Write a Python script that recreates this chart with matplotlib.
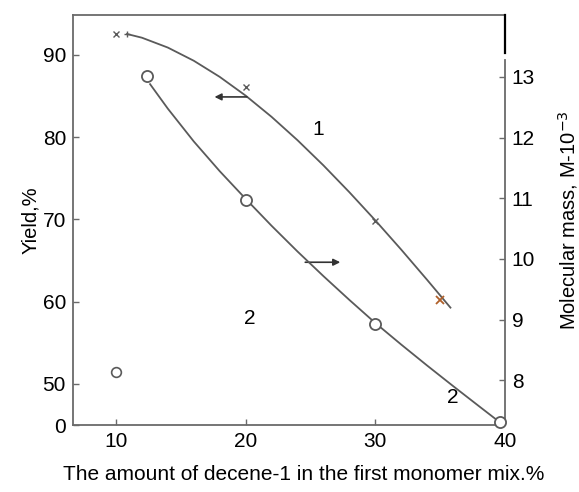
import matplotlib
matplotlib.use("Agg")
import matplotlib.pyplot as plt

plt.rcParams['font.family'] = ['Liberation Sans', 'DejaVu Sans']

# ---- data ----
# curve 1: yield (left axis), x markers
yield_x = [10, 20, 30, 35]
yield_y = [92.5, 86.1, 69.8, 60.2]
# smooth drawn line 1
fit1_x = [10.85, 12, 14, 16, 18, 20, 22, 24, 26, 28, 30, 32, 34, 35.8]
fit1_y = [92.55, 92.1, 90.9, 89.3, 87.34, 85.06, 82.48, 79.64, 76.58,
          73.32, 69.9, 66.34, 62.66, 59.28]

# curve 2: molecular mass (right axis), open circles
mm_x = [12.4, 20, 30, 39.6]
mm_y = [13.02, 10.97, 8.92, 7.31]
fit2_x = [12.63, 14, 16, 18, 20, 22, 24, 26, 28, 30, 32, 34, 36, 38, 39.58]
fit2_y = [12.88, 12.476, 11.936, 11.446, 10.99, 10.546, 10.122, 9.716,
          9.324, 8.944, 8.588, 8.242, 7.904, 7.572, 7.311]

# stray open circle near x=10
stray_x = [10]
stray_y = [51.5]

x_ticks = [10, 20, 30, 40]
left_ticks = [45.0, 50, 60, 70, 80, 90]
left_labels = ['0', '50', '60', '70', '80', '90']
right_ticks = [8, 9, 10, 11, 12, 13]

line_col = '#5a5a5a'
spine_col = '#6a6a6a'

fig = plt.figure(figsize=(5.79, 4.92), dpi=100)
ax = fig.add_axes([0.126, 0.136, 0.746, 0.8335])
ax2 = ax.twinx()

ax.set_xlim(6.68, 40)
ax.set_ylim(45.0, 94.86)
ax2.set_ylim(7.26, 14.02)

# curve 1
ax.plot(fit1_x, fit1_y, color=line_col, lw=1.3)
ax.plot(yield_x[:-1], yield_y[:-1], linestyle='none', marker='x', ms=5,
        mec=line_col, mew=1.0)
ax.plot(yield_x[-1:], yield_y[-1:], linestyle='none', marker='x', ms=6,
        mec='#b0602a', mew=1.3)
ax.plot([fit1_x[0]], [fit1_y[0]], linestyle='none', marker='+', ms=5,
        mec=line_col, mew=1.0)
ax.plot(stray_x, stray_y, linestyle='none', marker='o', ms=7,
        mfc='white', mec=line_col, mew=1.2)

# curve 2
ax2.plot(fit2_x, fit2_y, color=line_col, lw=1.3)
ax2.plot(mm_x, mm_y, linestyle='none', marker='o', ms=8,
         mfc='white', mec=line_col, mew=1.3, zorder=5, clip_on=False)

# labels on curves
ax.text(25.57, 80.9, '1', fontsize=15, ha='center', va='center')
ax.text(20.33, 58.0, '2', fontsize=15, ha='center', va='center')
ax.text(35.98, 48.3, '2', fontsize=15, ha='center', va='center')

# arrows
ax.annotate('', xy=(17.6, 84.9), xytext=(20.1, 84.9),
            arrowprops=dict(arrowstyle='-|>', color='#333333', lw=1.2,
                            mutation_scale=10, shrinkA=0, shrinkB=0))
ax.annotate('', xy=(27.3, 64.8), xytext=(24.6, 64.8),
            arrowprops=dict(arrowstyle='-|>', color='#333333', lw=1.2,
                            mutation_scale=10, shrinkA=0, shrinkB=0))

# ticks
ax.set_xticks(x_ticks)
ax.set_yticks(left_ticks)
ax.set_yticklabels(left_labels)
ax2.set_yticks(right_ticks)
ax.tick_params(axis='both', direction='in', length=4, width=1,
               color=spine_col, labelsize=15, pad=5)
ax2.tick_params(axis='y', direction='in', length=4, width=1,
                color=spine_col, labelsize=15, pad=5)

for a in (ax, ax2):
    for s in a.spines.values():
        s.set_color(spine_col)
        s.set_linewidth(1.3)
ax.spines['right'].set_visible(False)
ax2.spines['left'].set_visible(False)
ax2.spines['top'].set_visible(False)
ax2.spines['bottom'].set_visible(False)
ax2.spines['right'].set_bounds(7.26, 13.28)
ax2.plot([40, 40], [13.40, 14.02], color='black', lw=1.6, clip_on=False)

ax.set_xlabel('The amount of decene-1 in the first monomer mix.%',
              fontsize=15)
ax.xaxis.set_label_coords(0.535, -0.097)
ax.set_ylabel('Yield,%', fontsize=14.5, labelpad=2)
ax2.set_ylabel(r'Molecular mass, M-10$^{-3}$', fontsize=14.5)
ax2.yaxis.set_label_coords(1.118, 0.5)

fig.savefig('out.png', dpi=100)
